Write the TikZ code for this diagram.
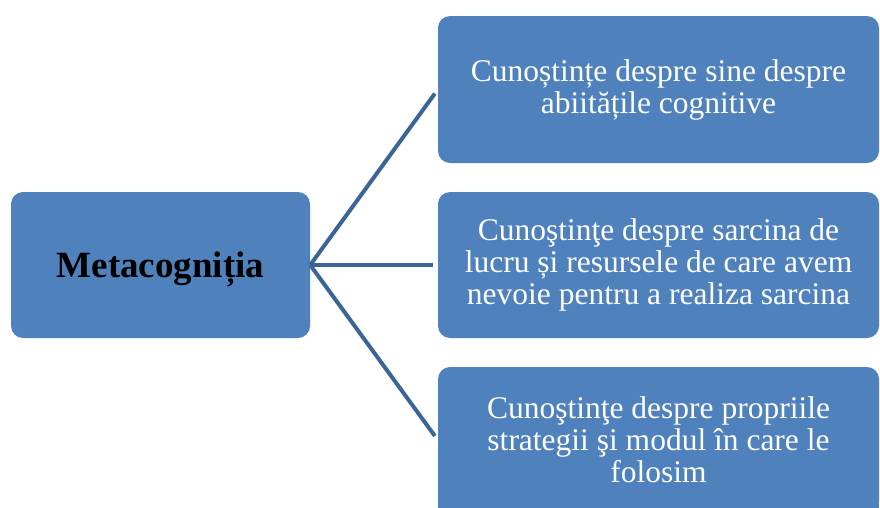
\documentclass[tikz,border=0pt]{standalone}
\usepackage{fontspec}
\setmainfont{Liberation Serif}
\definecolor{boxblue}{HTML}{4F81BD}
\definecolor{linkblue}{HTML}{3C6597}
\begin{document}
\begin{tikzpicture}[x=1pt,y=-1pt,
  card/.style={fill=boxblue, draw=none, rounded corners=12pt, align=center,
    inner sep=0pt, text=white, font=\fontsize{31.5}{32}\selectfont},
  link/.style={draw=linkblue, line width=4pt, shorten >=5pt}]
\useasboundingbox (0,0) rectangle (880,507);
% central concept
\node[card, text=black, font=\bfseries\fontsize{37}{40}\selectfont, text depth=0pt,
  minimum width=299pt, minimum height=146pt] (meta) at (160.5,265) {Metacogniția};
% the three kinds of knowledge
\node[card, minimum width=441pt, minimum height=147pt] (self) at (658.5,89.5)
  {Cunoștințe despre sine despre\\abiitățile cognitive};
\node[card, minimum width=441pt, minimum height=146pt] (task) at (658.5,265)
  {Cunoştinţe despre sarcina de\\lucru și resursele de care avem\\nevoie pentru a realiza sarcina};
% lower card runs past the bottom edge
\fill[boxblue] (438,480) rectangle (879,520);
\node[card, minimum width=441pt, minimum height=146pt] (strat) at (658.5,440)
  {Cunoştinţe despre propriile\\strategii şi modul în care le\\folosim};
% connectors
\draw[link] (meta.east) -- (self.west);
\draw[link] (meta.east) -- (task.west);
\draw[link] (meta.east) -- (strat.west);
\end{tikzpicture}
\end{document}
